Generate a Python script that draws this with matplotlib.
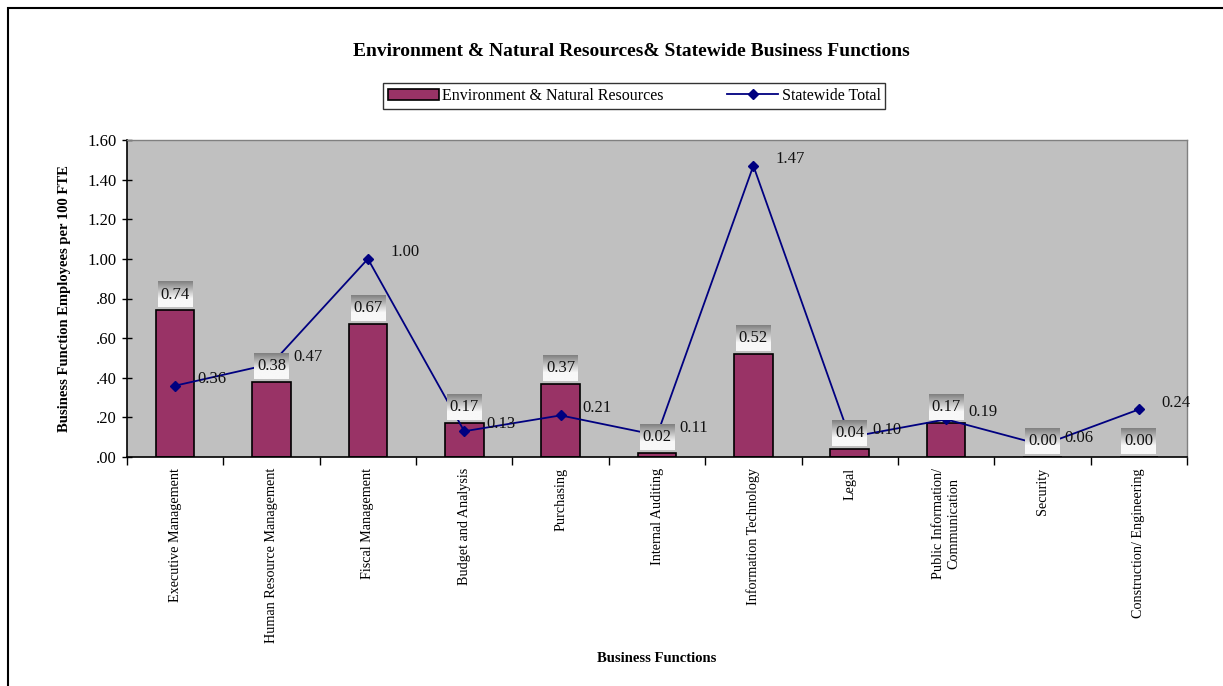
import numpy as np
import matplotlib.pyplot as plt
from matplotlib.patches import Rectangle
from matplotlib.ticker import FuncFormatter, FixedLocator

plt.rcParams['font.family'] = ['Liberation Serif', 'DejaVu Serif']

categories = ['Executive Management', 'Human Resource Management', 'Fiscal Management',
              'Budget and Analysis', 'Purchasing', 'Internal Auditing',
              'Information Technology', 'Legal', 'Public Information/\nCommunication',
              'Security', 'Construction/ Engineering']
enr_values = [0.74, 0.38, 0.67, 0.17, 0.37, 0.02, 0.52, 0.04, 0.17, 0.00, 0.00]
statewide_values = [0.36, 0.47, 1.00, 0.13, 0.21, 0.11, 1.47, 0.10, 0.19, 0.06, 0.24]

bar_color = '#993366'
line_color = '#000080'

fig = plt.figure(figsize=(12.23, 6.86), dpi=100)
ax = fig.add_axes([127 / 1223, 1 - 457 / 686, 1060 / 1223, 317 / 686])
ax.set_facecolor('#c0c0c0')

x = np.arange(len(categories))
bars = ax.bar(x, enr_values, width=0.4, color=bar_color, edgecolor='black', linewidth=1.2,
              zorder=2, label='Environment & Natural Resources')
line, = ax.plot(x, statewide_values, color=line_color, linewidth=1.3, marker='D',
                markersize=5, zorder=3, label='Statewide Total')

# gradient boxes behind the bar value labels (dark grey top -> white bottom)
grad = np.clip(np.linspace(0.5, 1.2, 60), 0, 0.97).reshape(-1, 1)
for xi, v in zip(x, enr_values):
    ax.imshow(grad, cmap='gray', vmin=0, vmax=1, aspect='auto', origin='upper',
              extent=[xi - 0.18, xi + 0.18, v + 0.015, v + 0.145], zorder=4)
    ax.text(xi, v + 0.08, f'{v:.2f}', ha='center', va='center', fontsize=12,
            color='#111111', zorder=5)

for xi, v in zip(x, statewide_values):
    ax.annotate(f'{v:.2f}', (xi, v), xytext=(16, 5), textcoords='offset points',
                ha='left', va='center', fontsize=12, color='#111111', zorder=5)

ax.set_xlim(-0.5, len(categories) - 0.5)
ax.set_ylim(0, 1.6)
ax.set_yticks(np.arange(0, 1.61, 0.2))
ax.yaxis.set_major_formatter(FuncFormatter(lambda v, p: f'{v:.2f}' if v >= 1 else f'{v:.2f}'[1:]))
ax.tick_params(axis='y', direction='inout', length=7, width=1, labelsize=12, pad=4)

ax.set_xticks(x)
ax.set_xticklabels(categories, rotation=90, fontsize=10.2, va='top', ha='center')
ax.xaxis.set_minor_locator(FixedLocator(np.arange(-0.5, len(categories), 1)))
ax.tick_params(axis='x', which='major', length=0, pad=8)
ax.tick_params(axis='x', which='minor', direction='out', length=6, width=1)

for s in ['left', 'bottom']:
    ax.spines[s].set_color('black')
    ax.spines[s].set_linewidth(1.2)
for s in ['top', 'right']:
    ax.spines[s].set_color('#808080')
    ax.spines[s].set_linewidth(1)

ax.set_ylabel('Business Function Employees per 100 FTE', fontsize=10.5, fontweight='bold',
              labelpad=12)
ax.set_xlabel('Business Functions', fontsize=10.5, fontweight='bold')
ax.xaxis.set_label_coords(0.5, -(652 - 457) / 317)

fig.text(0.5165, 1 - 52 / 686, 'Environment & Natural Resources& Statewide Business Functions',
         ha='center', va='center', fontsize=14, fontweight='bold')

leg = fig.legend([bars, line], ['Environment & Natural Resources', 'Statewide Total'],
                 loc='center', bbox_to_anchor=(634 / 1223, 1 - 96 / 686), ncol=2,
                 fancybox=False, edgecolor='black', fontsize=11.5, handlelength=3.2,
                 columnspacing=4, handletextpad=0.2, borderpad=0.3)
leg.get_frame().set_linewidth(1)

# outer chart border
fig.patches.append(Rectangle((8 / 1223, -0.1), 1.2, 1 - 8 / 686 + 0.1, transform=fig.transFigure,
                             fill=False, edgecolor='black', linewidth=1.5))

fig.savefig('out.png', dpi=100)
